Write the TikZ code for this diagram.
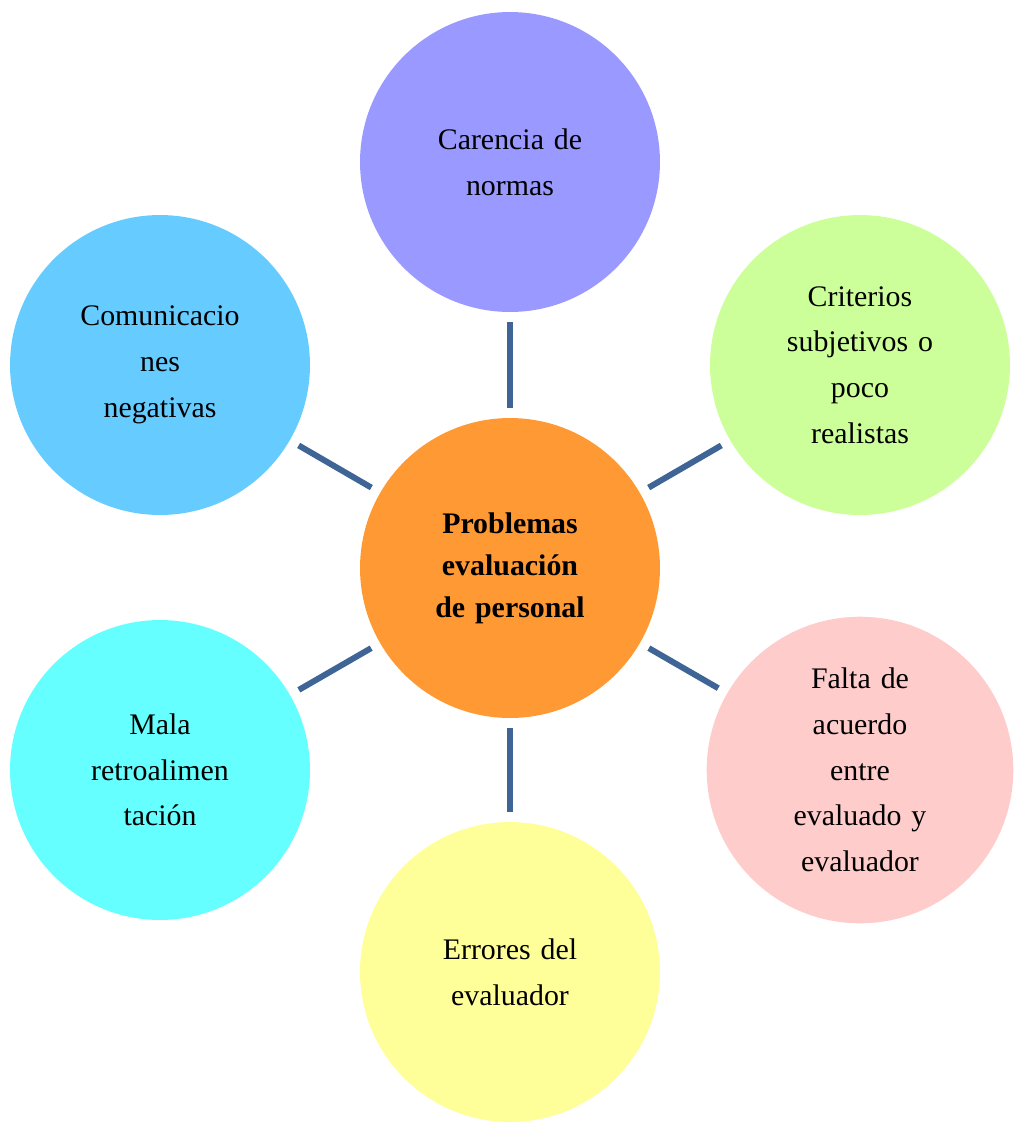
\documentclass[tikz,border=0pt]{standalone}
\usepackage{fontspec}
\setmainfont{Liberation Serif}
\definecolor{spoke}{HTML}{3F6496}
\definecolor{hub}{HTML}{FF9933}
\definecolor{cTop}{HTML}{9999FF}
\definecolor{cUR}{HTML}{CCFF99}
\definecolor{cLR}{HTML}{FFCCCC}
\definecolor{cBot}{HTML}{FFFF99}
\definecolor{cLL}{HTML}{66FFFF}
\definecolor{cUL}{HTML}{66CCFF}
\tikzset{
  bubble/.style={circle, minimum size=6cm, inner sep=0pt, align=center,
    text width=4.6cm, font=\fontsize{17}{26}\selectfont},
  spokeline/.style={draw=spoke, line width=3.4pt, shorten <=0.2cm, shorten >=0.2cm}
}
\begin{document}
\begin{tikzpicture}[x=0.02cm,y=-0.02cm]
\useasboundingbox (0,0) rectangle (1021,1134);
\node[bubble, fill=hub, font=\fontsize{17}{24}\selectfont\bfseries] (hubnode) at (510,568) {Problemas\\evaluación\\de personal};
\node[bubble, fill=cTop] (top) at (510,162) {Carencia de\\normas};
\node[bubble, fill=cUR] (ur) at (860,365) {Criterios\\subjetivos o\\poco\\realistas};
\node[bubble, fill=cLR] (lr) at (860,770) {Falta de\\acuerdo\\entre\\evaluado y\\evaluador};
\node[bubble, fill=cBot] (bot) at (510,972) {Errores del\\evaluador};
\node[bubble, fill=cLL] (ll) at (160,770) {Mala\\retroalimen\\tación};
\node[bubble, fill=cUL] (ul) at (160,365) {Comunicacio\\nes\\negativas};
\foreach \n in {top,ur,lr,bot,ll,ul}
  \draw[spokeline] (hubnode) -- (\n);
\end{tikzpicture}
\end{document}
